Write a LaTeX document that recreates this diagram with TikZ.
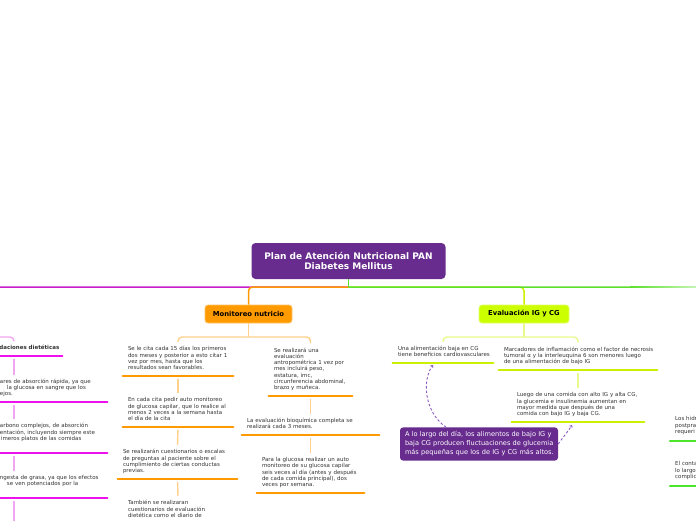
\documentclass[tikz,border=0pt]{standalone}
\usepackage{fontspec}
\setmainfont{DejaVu Sans}
\usetikzlibrary{arrows.meta}
\definecolor{purN}{HTML}{682C8E}
\definecolor{oraN}{HTML}{FF9A00}
\definecolor{oraU}{HTML}{FF9900}
\definecolor{oraC}{HTML}{FFD08A}
\definecolor{magR}{HTML}{C81EC8}
\definecolor{magU}{HTML}{EE11EE}
\definecolor{magC}{HTML}{F2A6F2}
\definecolor{grnR}{HTML}{5BE02C}
\definecolor{ygN}{HTML}{CCFF00}
\definecolor{ygU}{HTML}{CCF000}
\definecolor{ygC}{HTML}{E9F98C}
\definecolor{grnU}{HTML}{4CE62A}
\definecolor{dshC}{HTML}{8B5CC2}
\definecolor{txt}{HTML}{333333}
\newcommand\fsT{\fontsize{5.5}{6.3}\selectfont}
\newcommand\fsF{\fontsize{6.6}{8.8}\selectfont}
\newcommand\oneln[1]{\mbox{\strut#1}}
\begin{document}
\begin{tikzpicture}[x=1pt,y=-1pt,
  topic/.style={anchor=south, inner xsep=5pt, inner ysep=4.1pt, align=left, text width=#1, font=\fsT, text=txt},
  rootbox/.style={fill=purN, text=white, rounded corners=4pt, minimum width=194pt, minimum height=36pt, align=center, inner sep=0pt, font=\fontsize{9}{10.8}\selectfont\bfseries},
  mainbox/.style={rounded corners=3pt, minimum height=18pt, inner sep=0pt, text=black, line width=0.8pt, font=\fontsize{6.8}{8}\selectfont\bfseries},
  flbox/.style={fill=purN, text=white, rounded corners=3pt, minimum width=158pt, minimum height=32pt, inner xsep=5pt, text width=148pt, align=left, font=\fsF},
  ul/.style={line width=2.6pt, line cap=round},
  lnk/.style={line width=1.5pt},
  sub/.style={line width=1.4pt},
  rc/.style={rounded corners=4pt},
  dsh/.style={draw=dshC, line width=0.9pt, dash pattern=on 2.5pt off 2pt, -{Straight Barb[length=1.6pt,width=3pt]}}
]
\fill[white] (0,0) rectangle (696,520);
\useasboundingbox (0,0) rectangle (696,520);

% main nodes
\node[rootbox] (root) at (348.5,261) {Plan de Atención Nutricional PAN\\Diabetes Mellitus};
\node[mainbox, fill=oraN, draw=oraN!60!white, minimum width=87pt] (mon) at (248.5,314) {Monitoreo nutricio};
\node[mainbox, fill=ygN, draw=ygN!60!white, minimum width=90pt] (evl) at (524,314) {Evaluación IG y CG};

% Monitoreo children
\node[topic=100pt] (m1) at (178,376) {\oneln{Se le cita cada 15 días los primeros}\\\oneln{dos meses y posterior a esto citar 1}\\\oneln{vez por mes, hasta que los}\\\oneln{resultados sean favorables.}};
\node[topic=100pt] (m2) at (178,427) {\oneln{En cada cita pedir auto monitoreo}\\\oneln{de glucosa capilar, que lo realice al}\\\oneln{menos 2 veces a la semana hasta}\\\oneln{el día de la cita}};
\node[topic=109pt] (m3) at (177.5,479) {\oneln{Se realizarán cuestionarios o escalas}\\\oneln{de preguntas al paciente sobre el}\\\oneln{cumplimiento de ciertas conductas}\\\oneln{previas.}};
\node[topic=100pt, anchor=north] (m4) at (178,496) {\oneln{También se realizaran}\\\oneln{cuestionarios de evaluación}\\\oneln{dietética como el diario de}};
\node[topic=73pt] (m5) at (310.5,396) {\oneln{Se realizará una}\\\oneln{evaluación}\\\oneln{antropométrica 1 vez por}\\\oneln{mes incluirá peso,}\\\oneln{estatura, imc,}\\\oneln{circunferencia abdominal,}\\\oneln{brazo y muñeca.}};
\node[topic=127pt] (m6) at (310.5,435) {\oneln{La evaluación bioquímica completa se}\\\oneln{realizará cada 3 meses.}};
\node[topic=97pt] (m7) at (310.5,493) {\oneln{Para la glucosa realizar un auto}\\\oneln{monitoreo de su glucosa capilar}\\\oneln{seis veces al día (antes y después}\\\oneln{de cada comida principal), dos}\\\oneln{veces por semana.}};

% Evaluacion children
\node[topic=90pt] (e1) at (443,363) {\oneln{Una alimentación baja en CG}\\\oneln{tiene beneficios cardiovasculares}};
\node[topic=148pt] (e2) at (578,370) {\oneln{Marcadores de inflamación como el factor de necrosis}\\\oneln{tumoral α y la interleuquina 6 son menores luego}\\\oneln{de una alimentación de bajo IG}};
\node[topic=122pt] (e3) at (578,422) {\oneln{Luego de una comida con alto IG y alta CG,}\\\oneln{la glucemia e insulinemia aumentan en}\\\oneln{mayor medida que después de una}\\\oneln{comida con bajo IG y baja CG.}};

% left (cut) column
\node[topic=86pt, font=\fsT\bfseries] (l1) at (14,356) {\oneln{Recomendaciones dietéticas}};
\node[topic=176pt] (l2) at (14,402) {\oneln{\hspace*{74pt}ares de absorción rápida, ya que}\\\oneln{\hspace*{81pt}la glucosa en sangre que los}\\\oneln{\hspace*{74pt}ejos.}};
\node[topic=176pt] (l3) at (14,453) {\oneln{\hspace*{74pt}arbono complejos, de absorción}\\\oneln{\hspace*{74pt}entación, incluyendo siempre este}\\\oneln{\hspace*{75pt}imeros platos de las comidas}\\\oneln{}};
\node[topic=176pt] (l4) at (14,498) {\oneln{\hspace*{74pt}ngesta de grasa, ya que los efectos}\\\oneln{\hspace*{81pt}se ven potenciados por la}\\\oneln{}};

% right (cut) column
\node[topic=60pt, anchor=south west, inner ysep=5.5pt] (r1) at (670,441) {\oneln{Los hidr}\\\oneln{postpra}\\\oneln{requeri}};
\node[topic=60pt, anchor=south west, inner ysep=5.5pt] (r2) at (670,486) {\oneln{El conta}\\\oneln{lo largo}\\\oneln{complic}};

% floating note
\node[flbox] (fl) at (479,444) {\oneln{A lo largo del día, los alimentos de bajo IG y}\\\oneln{baja CG producen fluctuaciones de glucemia}\\\oneln{más pequeñas que los de IG y CG más altos.}};

% underlines
\foreach \n/\c in {m1/oraU,m2/oraU,m3/oraU,m5/oraU,m6/oraU,m7/oraU,e1/ygU,e2/ygU,e3/ygU,l1/magU,l2/magU,l3/magU,l4/magU,r1/grnU,r2/grnU}
  \draw[ul, draw=\c] (\n.south west) -- (\n.south east);

% root-level connectors
\coordinate (rj) at (348.5,287);
\coordinate (lmain) at (-40,314);
\coordinate (gmain) at (760,314);
\draw[lnk, magR, rc] (rj) -| (lmain);
\draw[lnk, oraU, rc] (rj) -| (mon.north);
\draw[lnk, ygU, rc] (rj) -| (evl.north);
\draw[lnk, grnR, rc] (rj) -| (gmain);
\draw[lnk, grnR] (root.south) -- (rj);
\shade[left color=grnR, right color=grnR!35!white] (630,286.25) rectangle (696,287.75);

% Monitoreo subtree
\coordinate (mj) at (248.5,337);
\draw[sub, oraC] (mon.south) -- (mj);
\draw[sub, oraC, rc] (mj) -| (m1.north);
\draw[sub, oraC, rc] (mj) -| (m5.north);
\draw[sub, oraC, shorten <=3pt] (m1.south) -- (m2.north);
\draw[sub, oraC, shorten <=3pt] (m2.south) -- (m3.north);
\draw[sub, oraC, shorten <=3pt] (m3.south) -- (m4.north);
\draw[sub, oraC, shorten <=3pt] (m5.south) -- (m6.north);
\draw[sub, oraC, shorten <=3pt] (m6.south) -- (m7.north);

% Evaluacion subtree
\coordinate (ej) at (524,337);
\draw[sub, ygC] (evl.south) -- (ej);
\draw[sub, ygC, rc] (ej) -| (e1.north);
\draw[sub, ygC, rc] (ej) -| (e2.north);
\draw[sub, ygC, shorten <=3pt] (e2.south) -- (e3.north);

% left subtree
\coordinate (lpar) at (-40,323);
\coordinate (lj) at (-40,337);
\coordinate (lend) at (14,535);
\draw[sub, magC] (lpar) -- (lj);
\draw[sub, magC, rc] (lj) -| (l1.north);
\draw[sub, magC, shorten <=3pt] (l1.south) -- (l2.north);
\draw[sub, magC, shorten <=3pt] (l2.south) -- (l3.north);
\draw[sub, magC, shorten <=3pt] (l3.south) -- (l4.north);
\draw[sub, magC, shorten <=3pt] (l4.south) -- (lend);

% dashed relations
\draw[dsh] (fl.153) .. controls (424,412) and (422,380) .. ([xshift=-10pt,yshift=-2pt]e1.south);
\draw[dsh] (fl.east) .. controls (564,436) and (569,430) .. ([xshift=-6pt,yshift=-3pt]e3.south);
\end{tikzpicture}
\end{document}
